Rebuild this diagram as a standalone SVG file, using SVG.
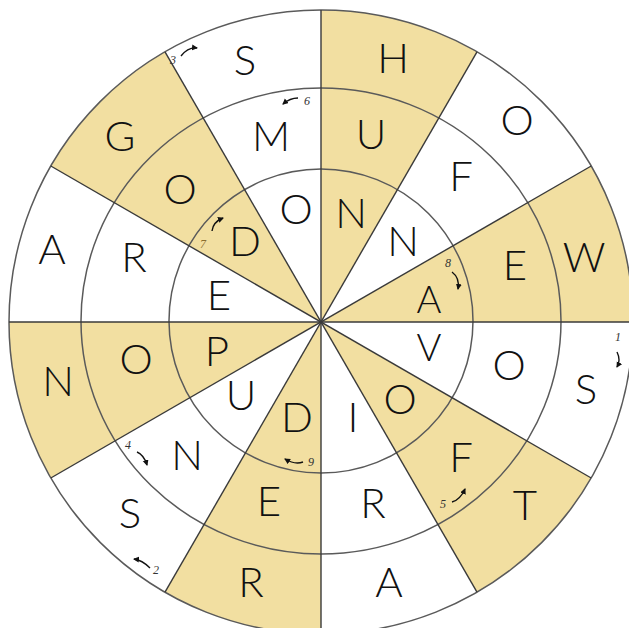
<svg xmlns="http://www.w3.org/2000/svg" width="629" height="628" viewBox="0 0 629 628">
<style>
.wedge{fill:#F2DFA1;stroke:none}
.ring{fill:none;stroke:#5a5a5a;stroke-width:1.5}
.spoke{stroke:#3a3a3a;stroke-width:1.4}
.L{font-family:Lato,"Liberation Sans",sans-serif;font-weight:300;font-size:42px;fill:#111;text-anchor:middle}
.S{font-size:38px}
.num{font-family:"Liberation Serif",serif;font-style:italic;font-size:12px;fill:#333;text-anchor:middle}
.arr{fill:none;stroke:#111;stroke-width:1.4;marker-end:url(#ah)}
</style>
<defs>
<marker id="ah" markerUnits="userSpaceOnUse" markerWidth="7" markerHeight="7" refX="5" refY="3" orient="auto">
<path d="M0,0 L6,3 L0,6 z" fill="#111"/>
</marker>
</defs>
<rect width="629" height="628" fill="#fff"/>
<g id="wedges">
<path class="wedge" d="M321,322 L321,10 A312,312 0 0 1 477,51.8 Z"/>
<path class="wedge" d="M321,322 L591.2,166 A312,312 0 0 1 633,322 Z"/>
<path class="wedge" d="M321,322 L591.2,478 A312,312 0 0 1 477,592.2 Z"/>
<path class="wedge" d="M321,322 L321,634 A312,312 0 0 1 165,592.2 Z"/>
<path class="wedge" d="M321,322 L50.8,478 A312,312 0 0 1 9,322 Z"/>
<path class="wedge" d="M321,322 L50.8,166 A312,312 0 0 1 165,51.8 Z"/>
</g>
<g id="rings">
<circle class="ring" cx="321" cy="322" r="312"/>
<ellipse class="ring" cx="321" cy="321" rx="240" ry="233"/>
<circle class="ring" cx="321" cy="321" r="152"/>
</g>
<g id="connectors">
<line class="spoke" x1="321" y1="10" x2="321" y2="634"/>
<line class="spoke" x1="477" y1="51.8" x2="165" y2="592.2"/>
<line class="spoke" x1="591.2" y1="166" x2="50.8" y2="478"/>
<line class="spoke" x1="633" y1="322" x2="9" y2="322"/>
<line class="spoke" x1="591.2" y1="478" x2="50.8" y2="166"/>
<line class="spoke" x1="477" y1="592.2" x2="165" y2="51.8"/>
<path class="arr" d="M617,352 Q621,360 617,367"/>
<path class="arr" d="M150,568 Q142,560 134,559"/>
<path class="arr" d="M181,56 Q188,47 197,48"/>
<path class="arr" d="M137,452 Q144,455 147,465"/>
<path class="arr" d="M452,502 Q460,500 465,489"/>
<path class="arr" d="M298,98 Q290,98 283,104"/>
<path class="arr" d="M212,231 Q213,222 223,218"/>
<path class="arr" d="M452,272 Q460,278 458,289"/>
<path class="arr" d="M303,462 Q295,465 285,459"/>
</g>
<g id="outer">
<text class="L" x="245" y="75">S</text>
<text class="L" x="393" y="73">H</text>
<text class="L" x="517" y="135">O</text>
<text class="L" x="584" y="272">W</text>
<text class="L" x="586" y="404">S</text>
<text class="L" x="525" y="520">T</text>
<text class="L" x="389" y="597">A</text>
<text class="L" x="251" y="597">R</text>
<text class="L" x="130" y="528">S</text>
<text class="L" x="58" y="396">N</text>
<text class="L" x="52" y="264">A</text>
<text class="L" x="120" y="151">G</text>
</g>
<g id="middle">
<text class="L" x="271" y="151">M</text>
<text class="L" x="371" y="149">U</text>
<text class="L" x="461" y="191">F</text>
<text class="L" x="515" y="280">E</text>
<text class="L" x="509" y="380">O</text>
<text class="L" x="461" y="472">F</text>
<text class="L" x="373" y="518">R</text>
<text class="L" x="269" y="516">E</text>
<text class="L" x="187" y="470">N</text>
<text class="L" x="136" y="374">O</text>
<text class="L" x="134" y="272">R</text>
<text class="L" x="180" y="204">O</text>
</g>
<g id="inner">
<text class="L" x="296" y="224">O</text>
<text class="L" x="351" y="228">N</text>
<text class="L" x="403" y="256">N</text>
<text class="L S" x="429" y="313">A</text>
<text class="L S" x="429" y="361">V</text>
<text class="L" x="400" y="414">O</text>
<text class="L" x="353" y="432">I</text>
<text class="L" x="297" y="432">D</text>
<text class="L" x="241" y="410">U</text>
<text class="L" x="217" y="366">P</text>
<text class="L" x="219" y="310">E</text>
<text class="L" x="245" y="256">D</text>
</g>
<g id="numbers">
<text class="num" x="618" y="341">1</text>
<text class="num" x="156" y="574">2</text>
<text class="num" x="173" y="64">3</text>
<text class="num" x="128" y="449">4</text>
<text class="num" x="443" y="508">5</text>
<text class="num" x="307" y="105">6</text>
<text class="num" x="203" y="248" style="fill:#8a6d2e">7</text>
<text class="num" x="448" y="267">8</text>
<text class="num" x="311" y="466">9</text>
</g>
</svg>
